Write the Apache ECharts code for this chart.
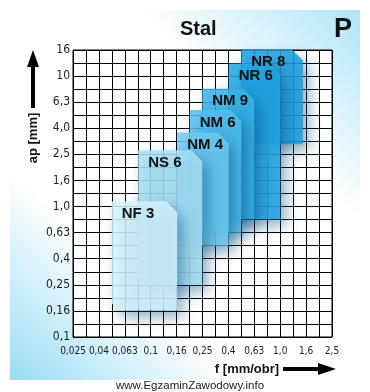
<!DOCTYPE html>
<html><head><meta charset="utf-8">
<script src="https://cdn.jsdelivr.net/npm/echarts@6/dist/echarts.min.js"></script>
<style>html,body{margin:0;padding:0;background:#fff}#c{width:370px;height:392px}</style>
</head><body><div id="c"></div>
<script>
// Tick labels (Renard R10 series, logarithmic axes)
const fTickLabels = ['0,025','0,04','0,063','0,1','0,16','0,25','0,4','0,63','1,0','1,6','2,5'];
const apTickLabels = ['0,1','0,16','0,25','0,4','0,63','1,0','1,6','2,5','4,0','6,3','10','16'];

// Chip-breaker application areas (back to front)
const blockNames = ['NR 8','NR 6','NM 9','NM 6','NM 4','NS 6','NF 3'];
const blockFMin  = [0.5, 0.4, 0.25, 0.2, 0.16, 0.08, 0.05];
const blockFMax  = [1.5, 1.0, 0.63, 0.5, 0.4, 0.25, 0.16];
const blockApMin = [3.0, 0.8, 0.8, 0.63, 0.5, 0.25, 0.16];
const blockApMax = [16, 12.5, 8.0, 5.5, 3.7, 2.7, 1.1];

const blockColors = ['#1a9fe0','#22a6e4','#3ab3ea','#52bfee','#6dcbf1','#a8e1f6','#d4f2fb'];

const lg = v => 10 * Math.log10(v);
const FONT = '"Liberation Sans", Arial, sans-serif';
const NARROW = '"Liberation Sans Narrow", "DejaVu Sans Condensed", "Liberation Sans", sans-serif';

const data = blockNames.map((n, i) => [lg(blockFMin[i]), lg(blockFMax[i]), lg(blockApMin[i]), lg(blockApMax[i])]);

function renderItem(params, api) {
  const i = params.dataIndex;
  const tl = api.coord([api.value(0), api.value(3)]);
  const br = api.coord([api.value(1), api.value(2)]);
  const x0 = tl[0], y0 = tl[1], x1 = br[0], y1 = br[1];
  const c = 11, r = 7;
  return {
    type: 'group',
    children: [
      {type: 'polygon', z2: i, shape: {points: [[x0,y0],[x1-c,y0],[x1,y0+c],[x1,y1],[x0+r,y1],[x0,y1-r]]},
       style: {fill: blockColors[i], opacity: 0.85, shadowBlur: 14, shadowColor: 'rgba(0,70,120,0.5)', shadowOffsetX: 6, shadowOffsetY: 7}},
      {type: 'text', z2: 100 + i, x: x0 + 10, y: y0 + 5,
       style: {text: blockNames[i], fill: '#111', font: 'bold 15px ' + FONT, textAlign: 'left', textVerticalAlign: 'top'}}
    ]
  };
}

const chart = echarts.init(document.getElementById('c'), null, {renderer: 'canvas'});
chart.setOption({
  animation: false,
  backgroundColor: '#ffffff',
  graphic: [
    {type: 'rect', z: -100, silent: true, shape: {x: 10, y: 10, width: 350, height: 370},
     style: {fill: new echarts.graphic.LinearGradient(0, 1, 1, 0, [
       {offset: 0, color: '#98dcf4'}, {offset: 0.3, color: '#ffffff'},
       {offset: 0.7, color: '#ffffff'}, {offset: 1, color: '#aee4f7'}])}},
    {type: 'text', left: 180, top: 19, style: {text: 'Stal', font: 'bold 20px ' + FONT, fill: '#111'}},
    {type: 'text', left: 334, top: 16, style: {text: 'P', font: 'bold 27px ' + FONT, fill: '#111'}},
    {type: 'text', x: 33, y: 138, rotation: Math.PI / 2, silent: true,
     style: {text: 'ap [mm]', font: 'bold 13px ' + FONT, fill: '#111', textAlign: 'center', textVerticalAlign: 'middle'}},
    {type: 'line', shape: {x1: 33, y1: 108, x2: 33, y2: 64}, style: {stroke: '#000', lineWidth: 4}},
    {type: 'polygon', shape: {points: [[33,50],[27,67],[39,67]]}, style: {fill: '#000'}},
    {type: 'text', x: 247, y: 369, style: {text: 'f [mm/obr]', font: 'bold 13px ' + FONT, fill: '#111', textAlign: 'center', textVerticalAlign: 'middle'}},
    {type: 'line', shape: {x1: 283, y1: 369, x2: 320, y2: 369}, style: {stroke: '#000', lineWidth: 4}},
    {type: 'polygon', shape: {points: [[336,369],[318,363],[318,375]]}, style: {fill: '#000'}},
    {type: 'text', x: 190, y: 386, style: {text: 'www.EgzaminZawodowy.info', font: '11.5px ' + FONT, fill: '#222', textAlign: 'center', textVerticalAlign: 'middle'}}
  ],
  grid: {left: 73, right: 38, top: 50, bottom: 55, show: true, backgroundColor: '#ffffff', borderColor: '#000', borderWidth: 1},
  xAxis: {
    type: 'value', min: -16, max: 4, interval: 2,
    axisLine: {show: false}, axisTick: {show: false},
    axisLabel: {color: '#222', fontSize: 10, fontFamily: NARROW, margin: 9,
      formatter: v => { const k = Math.round((v + 16) / 2); return fTickLabels[k] || ''; }},
    splitLine: {show: true, lineStyle: {color: '#000', width: 1}},
    minorTick: {show: false, splitNumber: 2},
    minorSplitLine: {show: true, lineStyle: {color: '#000', width: 1}}
  },
  yAxis: {
    type: 'value', min: -10, max: 12, interval: 2,
    axisLine: {show: false},
    axisTick: {show: true, length: 7, lineStyle: {color: '#000'}},
    axisLabel: {color: '#222', fontSize: 12, fontFamily: NARROW, margin: 3,
      formatter: v => { const k = Math.round((v + 10) / 2); return apTickLabels[k] || ''; }},
    splitLine: {show: true, lineStyle: {color: '#000', width: 1}},
    minorTick: {show: false, splitNumber: 2},
    minorSplitLine: {show: true, lineStyle: {color: '#000', width: 1}}
  },
  series: [{
    type: 'custom', renderItem: renderItem, data: data,
    encode: {x: [0, 1], y: [2, 3]}, clip: false
  }]
});
</script></body></html>
